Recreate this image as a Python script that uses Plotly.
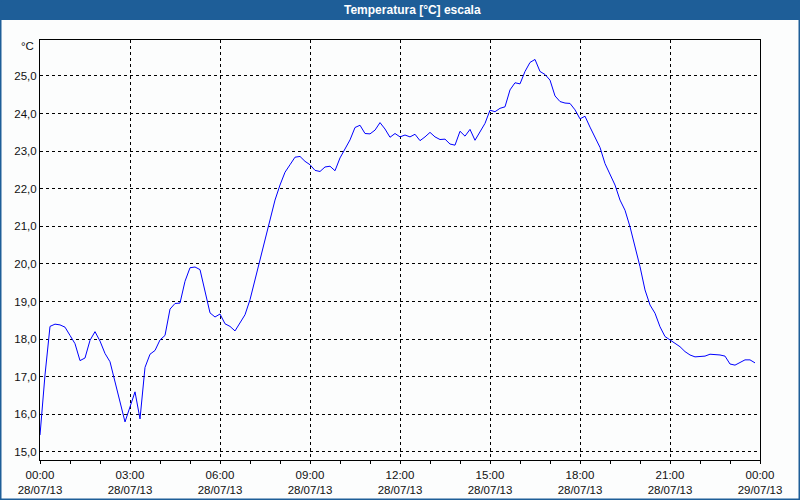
import pandas as pd
import plotly.graph_objects as go

# --- data (10-minute samples, 28/07/13 00:00 .. 23:50) ---
start_time = "2013-07-28 00:00"
n_samples = 144
temperature = [
    15.45, 17.05, 18.34, 18.40, 18.38, 18.32, 18.10, 17.88, 17.43, 17.50,
    17.97, 18.20, 17.95, 17.62, 17.40, 16.85, 16.35, 15.80, 16.20, 16.60,
    15.88, 17.25, 17.60, 17.70, 17.98, 18.10, 18.80, 18.95, 18.96, 19.54,
    19.90, 19.92, 19.85, 19.23, 18.70, 18.59, 18.67, 18.41, 18.34, 18.22,
    18.43, 18.65, 19.05, 19.58, 20.12, 20.65, 21.18, 21.70, 22.10, 22.44,
    22.64, 22.84, 22.86, 22.73, 22.64, 22.49, 22.46, 22.58, 22.60, 22.48,
    22.82, 23.05, 23.30, 23.63, 23.69, 23.47, 23.46, 23.56, 23.76, 23.59,
    23.37, 23.47, 23.38, 23.43, 23.38, 23.45, 23.28, 23.38, 23.50, 23.38,
    23.31, 23.32, 23.19, 23.16, 23.53, 23.40, 23.58, 23.29, 23.52, 23.74,
    24.09, 24.05, 24.14, 24.18, 24.63, 24.82, 24.79, 25.12, 25.36, 25.44,
    25.12, 25.04, 24.89, 24.47, 24.32, 24.28, 24.27, 24.10, 23.86, 23.93,
    23.64, 23.38, 23.10, 22.67, 22.36, 22.10, 21.70, 21.43, 20.99, 20.46,
    19.93, 19.31, 18.91, 18.69, 18.33, 18.07, 17.98, 17.89, 17.80, 17.67,
    17.58, 17.53, 17.53, 17.55, 17.60, 17.60, 17.58, 17.55, 17.34, 17.31,
    17.37, 17.45, 17.45, 17.37,
]
x_tick_vals = [
    "2013-07-28 00:00", "2013-07-28 03:00", "2013-07-28 06:00",
    "2013-07-28 09:00", "2013-07-28 12:00", "2013-07-28 15:00",
    "2013-07-28 18:00", "2013-07-28 21:00", "2013-07-29 00:00",
]
x_tick_text = [
    "00:00<br>28/07/13", "03:00<br>28/07/13", "06:00<br>28/07/13",
    "09:00<br>28/07/13", "12:00<br>28/07/13", "15:00<br>28/07/13",
    "18:00<br>28/07/13", "21:00<br>28/07/13", "00:00<br>29/07/13",
]
y_tick_vals = [15, 16, 17, 18, 19, 20, 21, 22, 23, 24, 25]
title_text = "Temperatura [°C] escala"
unit_text = "°C"

times = pd.date_range(start_time, periods=n_samples, freq="10min")

BAR = "#1e5e98"
BG = "#fcfdfd"
FONT = "Liberation Sans"

fig = go.Figure()
fig.add_trace(go.Scatter(
    x=times, y=temperature, mode="lines",
    line=dict(color="#0000ff", width=1),
    showlegend=False, hoverinfo="skip",
))

fig.update_layout(
    width=800, height=500,
    margin=dict(l=40, r=40, t=40, b=40, autoexpand=False),
    paper_bgcolor=BG, plot_bgcolor=BG,
    separators=",.",
    font=dict(family=FONT, size=11.5, color="#111111"),
    xaxis=dict(
        type="date", automargin=False,
        range=["2013-07-28 00:00", "2013-07-29 00:00"],
        tickmode="array", tickvals=x_tick_vals, ticktext=x_tick_text,
        showgrid=True, gridcolor="#000000", gridwidth=1, griddash="3px,3px",
        showline=True, linecolor="#000000", linewidth=1, mirror=True,
        ticks="outside", ticklen=3, tickcolor="#000000",
        ticklabelstandoff=1,
        minor=dict(dtick=3600000, ticks="outside", ticklen=3,
                   tickcolor="#000000", showgrid=False),
        zeroline=False,
    ),
    yaxis=dict(
        automargin=False,
        range=[14.787, 25.957],
        tickmode="array", tickvals=y_tick_vals, tickformat=".1f",
        showgrid=True, gridcolor="#000000", gridwidth=1, griddash="3px,3px",
        showline=True, linecolor="#000000", linewidth=1, mirror=True,
        ticks="", zeroline=False,
    ),
    shapes=[
        dict(type="rect", xref="paper", yref="paper",
             x0=-40 / 720, x1=760 / 720, y0=440 / 420, y1=460 / 420,
             fillcolor=BAR, line=dict(width=0), layer="above"),
        dict(type="rect", xref="paper", yref="paper",
             x0=-39.5 / 720, x1=759.5 / 720, y0=-39.5 / 420, y1=459.5 / 420,
             fillcolor="rgba(0,0,0,0)", line=dict(color=BAR, width=2),
             layer="above"),
    ],
    annotations=[
        dict(text="<b>" + title_text + "</b>", xref="paper", yref="paper",
             x=(412 - 40) / 720, y=450 / 420, xanchor="center", yanchor="middle",
             showarrow=False, font=dict(family=FONT, size=12, color="#ffffff")),
        dict(text=unit_text, xref="paper", yref="paper",
             x=-4 / 720, y=(460 - 46) / 420, xanchor="right", yanchor="middle",
             showarrow=False, font=dict(family=FONT, size=11.5, color="#111111")),
    ],
)

fig.write_html("out.html")
